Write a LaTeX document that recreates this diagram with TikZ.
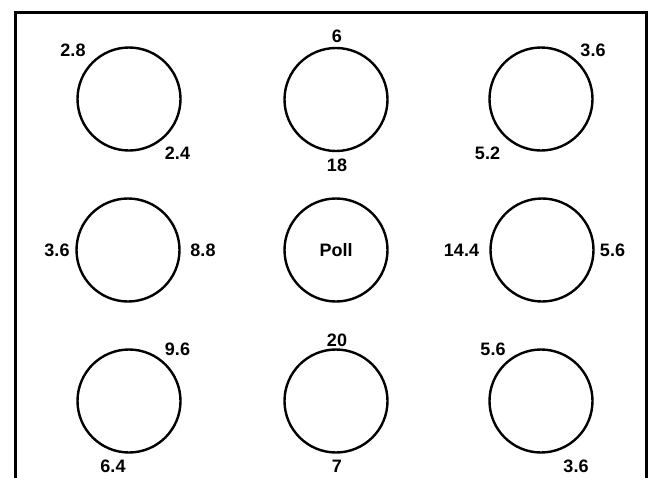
\documentclass[tikz,border=0pt]{standalone}
\usepackage{fontspec}
\setmainfont{Liberation Sans}
\begin{document}
\begin{tikzpicture}[x=1pt,y=1pt,
  ring/.style={circle,draw,line width=2.4pt,minimum size=103pt,inner sep=0pt,font=\fontsize{18}{21}\selectfont\bfseries},
  num/.style={inner sep=0pt,font=\fontsize{18}{21}\selectfont\bfseries}]
\useasboundingbox (0,0) rectangle (653,-477);
\fill[white] (0,0) rectangle (653,-477);
\coordinate (fbl) at (15.5,-478);
\coordinate (ftl) at (15.5,-12);
\coordinate (ftr) at (646,-12);
\coordinate (fbr) at (646,-478);
\draw[line width=3pt] (fbl) -- (ftl) -- (ftr) -- (fbr);
% circles
\node[ring] (c11) at (129,-99) {};
\node[ring] (c12) at (336,-99.5) {};
\node[ring] (c13) at (541,-99) {};
\node[ring] (c21) at (128,-250) {};
\node[ring] (c22) at (336,-250) {Poll};
\node[ring] (c23) at (542,-250) {};
\node[ring] (c31) at (129,-401) {};
\node[ring] (c32) at (336,-401) {};
\node[ring] (c33) at (541,-401) {};
% labels
\node[num] (l1) at (73,-50) {2.8};
\node[num] (l2) at (177.5,-153) {2.4};
\node[num] (l3) at (337,-36.5) {6};
\node[num] (l4) at (337,-165) {18};
\node[num] (l5) at (593,-50) {3.6};
\node[num] (l6) at (487.5,-153) {5.2};
\node[num] (l7) at (57,-250) {3.6};
\node[num] (l8) at (203,-250) {8.8};
\node[num] (l9) at (461.5,-250) {14.4};
\node[num] (l10) at (612.5,-250) {5.6};
\node[num] (l11) at (177.5,-349) {9.6};
\node[num] (l12) at (113,-466.5) {6.4};
\node[num] (l13) at (337,-340) {20};
\node[num] (l14) at (337,-466) {7};
\node[num] (l15) at (493,-349) {5.6};
\node[num] (l16) at (576,-466.5) {3.6};
\end{tikzpicture}
\end{document}
